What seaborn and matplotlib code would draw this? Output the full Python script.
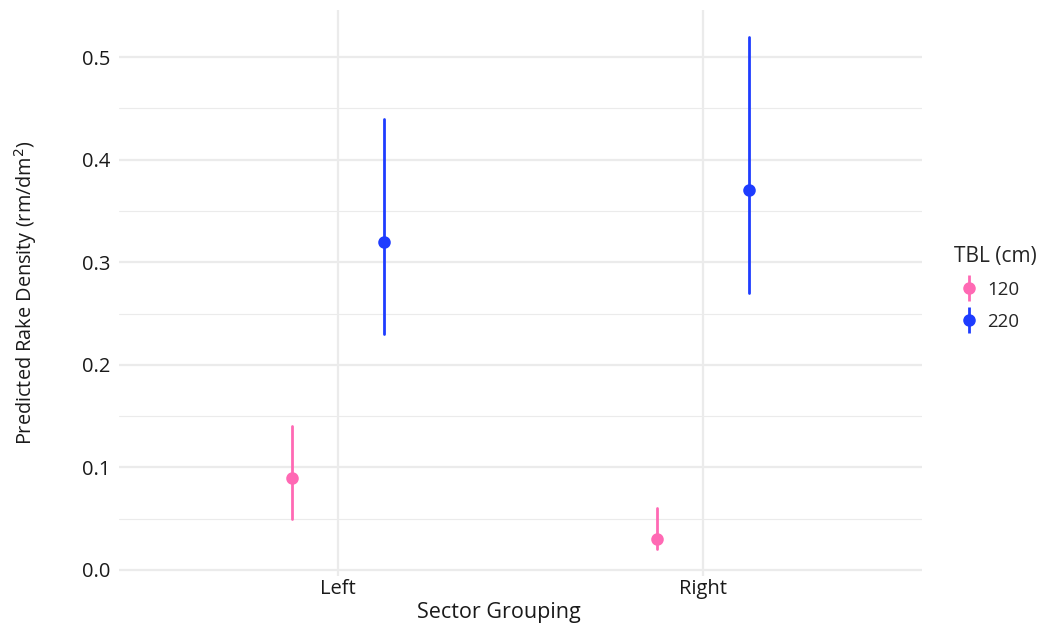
import numpy as np
import pandas as pd
import seaborn as sns
import matplotlib
matplotlib.use("Agg")
import matplotlib.pyplot as plt
from matplotlib.lines import Line2D
from matplotlib.legend_handler import HandlerTuple
from matplotlib.ticker import MultipleLocator

# Model predictions: estimate with lower/upper interval per sector and TBL
sectors = ["Left", "Left", "Right", "Right"]
tbl = ["120", "220", "120", "220"]
estimate = [0.09, 0.32, 0.03, 0.37]
lower = [0.05, 0.23, 0.02, 0.27]
upper = [0.14, 0.44, 0.06, 0.52]

palette = {"120": "#FF69B4", "220": "#1E3CFF"}

# Long form: each group contributes its lower, estimate and upper value so the
# median gives the estimate and the min/max span gives the interval
rows = []
for s, t, e, lo, hi in zip(sectors, tbl, estimate, lower, upper):
    for v in (lo, e, hi):
        rows.append({"Sector Grouping": s, "TBL (cm)": t, "value": v})
df = pd.DataFrame(rows)

sns.set_theme(style="whitegrid")
plt.rcParams["font.family"] = ["Open Sans", "DejaVu Sans"]

fig = plt.figure(figsize=(10.46, 6.23), dpi=100)
ax = fig.add_axes([0.1138, 0.0754, 0.7677, 0.9086])

sns.pointplot(
    data=df, x="Sector Grouping", y="value", hue="TBL (cm)",
    order=["Left", "Right"], hue_order=["120", "220"], palette=palette,
    estimator="median", errorbar=lambda v: (v.min(), v.max()),
    dodge=0.25, linestyle="none", markers="o", markersize=7,
    err_kws={"linewidth": 2.0}, ax=ax, legend=False,
)

ax.set_xlim(-0.6, 1.6)
ax.yaxis.set_major_locator(MultipleLocator(0.1))
ax.yaxis.set_minor_locator(MultipleLocator(0.05))
ax.set_ylim(-0.006, 0.546)
ax.yaxis.set_major_formatter(matplotlib.ticker.FormatStrFormatter("%.1f"))

ax.set_facecolor("white")
for sp in ax.spines.values():
    sp.set_visible(False)
ax.grid(which="major", axis="both", color="#EBEBEB", linewidth=1.6)
ax.grid(which="minor", axis="y", color="#EBEBEB", linewidth=0.8)
ax.set_axisbelow(True)
ax.tick_params(axis="both", which="both", length=0, labelsize=14.5,
               labelcolor="#1A1A1A")
ax.tick_params(axis="y", pad=6)
ax.tick_params(axis="x", pad=2)

ax.set_xlabel("Sector Grouping", fontsize=15.5, color="#1A1A1A", labelpad=2)
ax.xaxis.label.set_x(0.473)
ax.set_ylabel("Predicted Rake Density (rm/dm$^2$)", fontsize=14.3,
              color="#1A1A1A", labelpad=31)

handles = []
for key in ["120", "220"]:
    bar = Line2D([], [], color=palette[key], marker="|", markersize=19,
                 markeredgewidth=2, linestyle="none")
    dot = Line2D([], [], color=palette[key], marker="o", markersize=8,
                 linestyle="none")
    handles.append((bar, dot))

leg = fig.legend(handles, ["120", "220"], title="TBL (cm)",
                 handler_map={tuple: HandlerTuple(ndivide=1)},
                 loc="upper left", bbox_to_anchor=(0.896, 0.633),
                 frameon=False, fontsize=13.5, title_fontsize=15,
                 handlelength=1.6, handletextpad=0.15, labelspacing=0.75)
leg._legend_box.align = "left"

fig.savefig("out.png", dpi=100, facecolor="white")
